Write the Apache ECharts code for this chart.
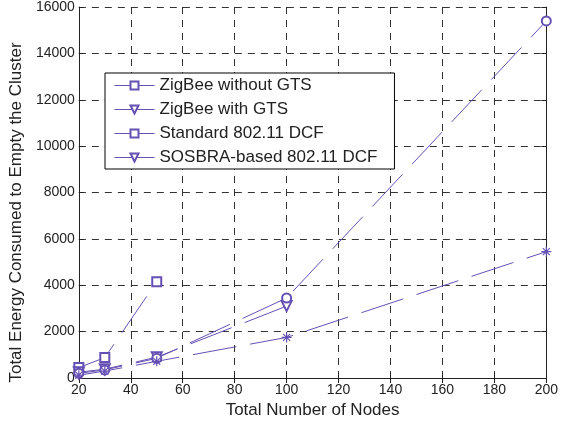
<!DOCTYPE html>
<html><head><meta charset="utf-8">
<script src="https://cdn.jsdelivr.net/npm/echarts@6/dist/echarts.min.js"></script>
<style>html,body{margin:0;padding:0;background:#fff}#c{width:561px;height:427px}</style>
</head><body><div id="c"></div>
<script>
// ---- data ----
const legendNames = ['ZigBee without GTS', 'ZigBee with GTS', 'Standard 802.11 DCF', 'SOSBRA-based 802.11 DCF'];
const zigbeeNoGtsX = [20, 30, 50];
const zigbeeNoGtsY = [450, 880, 4150];
const zigbeeGtsX = [20, 30, 50, 100];
const zigbeeGtsY = [250, 380, 900, 3100];
const standardDcfX = [20, 30, 50, 100, 200];
const standardDcfY = [200, 350, 850, 3450, 15400];
const sosbraDcfX = [20, 30, 50, 100, 200];
const sosbraDcfY = [120, 300, 720, 1750, 5450];
const xTicks = [20, 40, 60, 80, 100, 120, 140, 160, 180, 200];
const yTicks = [0, 2000, 4000, 6000, 8000, 10000, 12000, 14000, 16000];

const COLOR = '#6650b4';
const STAR = 'path://M-0.6,-5L0.6,-5L0.6,5L-0.6,5Z M-5,-0.6L5,-0.6L5,0.6L-5,0.6Z M-3.9,-3.1L-3.1,-3.9L3.9,3.1L3.1,3.9Z M3.1,-3.9L3.9,-3.1L-3.1,3.9L-3.9,3.1Z';
const FONT = 'Liberation Sans, Arial, sans-serif';

function pts(xs, ys, sym) {
  return xs.map((x, i) => sym ? { value: [x, ys[i]], symbol: sym } : [x, ys[i]]);
}
const plain = v => String(v);

const chart = echarts.init(document.getElementById('c'), null, { renderer: 'canvas' });
chart.setOption({
  animation: false,
  backgroundColor: '#fff',
  grid: { left: 76, right: 12, top: 5, bottom: 49, containLabel: false },
  legend: {
    orient: 'vertical',
    left: 105, top: 73,
    padding: [4, 17, 3, 9],
    itemWidth: 40, itemHeight: 10, itemGap: 7,
    borderColor: '#000', borderWidth: 1,
    backgroundColor: '#fff',
    data: legendNames,
    lineStyle: { type: 'solid', width: 1 },
    textStyle: { fontFamily: FONT, fontSize: 17, color: '#222' },
    selectedMode: false
  },
  xAxis: [{
    type: 'value', min: 20, max: 200, interval: 20,
    name: 'Total Number of Nodes', nameLocation: 'middle', nameGap: 24,
    nameTextStyle: { fontFamily: FONT, fontSize: 17, color: '#222' },
    axisLine: { lineStyle: { color: '#222', width: 1 } },
    axisTick: { inside: true, length: 5, lineStyle: { color: '#222' } },
    axisLabel: { fontFamily: FONT, fontSize: 14, color: '#222', margin: 5, formatter: plain },
    splitLine: { show: true, lineStyle: { color: '#333', type: [7, 6], width: 1 } }
  }, {
    type: 'value', position: 'top', min: 20, max: 200, interval: 20,
    axisLine: { lineStyle: { color: '#222', width: 1 } },
    axisTick: { inside: true, length: 5, lineStyle: { color: '#222' } },
    axisLabel: { show: false }, splitLine: { show: false }
  }],
  yAxis: [{
    type: 'value', min: 0, max: 16000, interval: 2000,
    name: 'Total Energy Consumed to Empty the Cluster', nameLocation: 'middle', nameGap: 53,
    nameTextStyle: { fontFamily: FONT, fontSize: 17, color: '#222', padding: [0, 40, 0, 0] },
    axisLine: { show: true, lineStyle: { color: '#222', width: 1 } },
    axisTick: { show: true, inside: true, length: 5, lineStyle: { color: '#222' } },
    axisLabel: { fontFamily: FONT, fontSize: 14, color: '#222', margin: 4, formatter: plain },
    splitLine: { show: true, lineStyle: { color: '#333', type: [7, 6], width: 1 } }
  }, {
    type: 'value', position: 'right', min: 0, max: 16000, interval: 2000,
    axisLine: { show: true, lineStyle: { color: '#222', width: 1 } },
    axisTick: { show: true, inside: true, length: 5, lineStyle: { color: '#222' } },
    axisLabel: { show: false }, splitLine: { show: false }
  }],
  series: [
    {
      name: legendNames[0], type: 'line', xAxisIndex: 0, yAxisIndex: 0,
      data: pts(zigbeeNoGtsX, zigbeeNoGtsY),
      symbol: 'emptyRect', symbolSize: 9,
      itemStyle: { color: COLOR, borderWidth: 1 },
      lineStyle: { color: COLOR, width: 1, type: [44, 14] }
    },
    {
      name: legendNames[1], type: 'line', xAxisIndex: 0, yAxisIndex: 0,
      data: pts(zigbeeGtsX, zigbeeGtsY),
      symbol: 'emptyTriangle', symbolRotate: 180, symbolSize: 10,
      itemStyle: { color: COLOR, borderWidth: 1 },
      lineStyle: { color: COLOR, width: 1, type: [44, 14] }
    },
    {
      name: legendNames[2], type: 'line', xAxisIndex: 0, yAxisIndex: 0,
      data: pts(standardDcfX, standardDcfY, 'emptyCircle'),
      symbol: 'emptyRect', symbolSize: 9,
      itemStyle: { color: COLOR, borderWidth: 1 },
      lineStyle: { color: COLOR, width: 1, type: [44, 14] }
    },
    {
      name: legendNames[3], type: 'line', xAxisIndex: 0, yAxisIndex: 0,
      data: pts(sosbraDcfX, sosbraDcfY, STAR),
      symbol: 'emptyTriangle', symbolRotate: 180, symbolSize: 10,
      itemStyle: { color: COLOR, borderWidth: 1 },
      lineStyle: { color: COLOR, width: 1, type: [44, 14] }
    }
  ]
});
</script>
</body></html>
